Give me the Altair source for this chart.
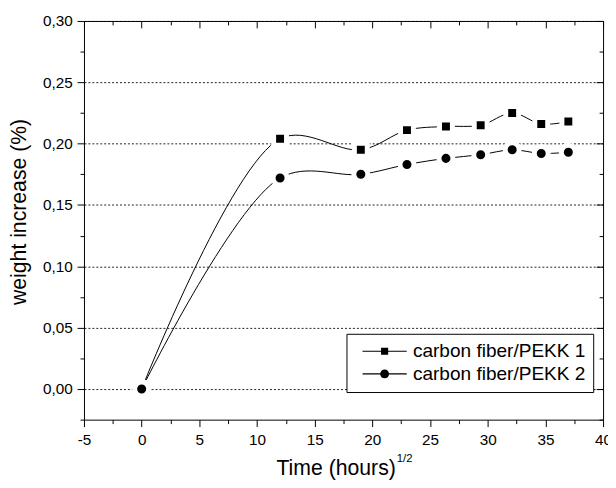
import altair as alt
import pandas as pd

# ---- data ----
time_sqrt = [0, 12, 19, 23, 26.38, 29.39, 32.12, 34.64, 36.99]
pekk1 = [0.000, 0.204, 0.195, 0.211, 0.214, 0.215, 0.225, 0.216, 0.218]
pekk2 = [0.000, 0.172, 0.175, 0.183, 0.188, 0.191, 0.195, 0.192, 0.193]
series_names = ["carbon fiber/PEKK 1", "carbon fiber/PEKK 2"]

x_major = [-5, 0, 5, 10, 15, 20, 25, 30, 35, 40]
x_minor = [-2.5, 2.5, 7.5, 12.5, 17.5, 22.5, 27.5, 32.5, 37.5]
y_major = [0.00, 0.05, 0.10, 0.15, 0.20, 0.25, 0.30]
y_minor = [-0.025, 0.025, 0.075, 0.125, 0.175, 0.225, 0.275]

X_DOMAIN = [-5, 40]
Y_DOMAIN = [-0.025, 0.30]

rows = []
for name, vals in zip(series_names, [pekk1, pekk2]):
    for t, v in zip(time_sqrt, vals):
        rows.append({"t": t, "w": v, "series": name})
df = pd.DataFrame(rows)

W, H = 526, 404
FONT = "Liberation Sans"

xs = alt.Scale(domain=X_DOMAIN, nice=False, zero=False)
ys = alt.Scale(domain=Y_DOMAIN, nice=False, zero=False)

comma_fmt = "replace(format(datum.value, '.2f'), '.', ',')"
plain_fmt = "'' + datum.value"


def ax(**kw):
    base = dict(domainColor="black", tickColor="black", grid=False,
                labelFont=FONT, labelFontSize=15.5, labelColor="black",
                labelFlush=False,
                titleFont=FONT, titleFontSize=21.5, titleFontWeight="normal",
                titleColor="black")
    base.update(kw)
    return alt.Axis(**base)


base = alt.Chart(df)

# curves
lines = base.mark_line(color="black", strokeWidth=1, interpolate="catmull-rom").encode(
    x=alt.X("t:Q", scale=xs, axis=ax(orient="bottom", values=x_major, tickSize=7,
                                     labelPadding=6, labelExpr=plain_fmt,
                                     title="Time (hours)", titleX=255, titleY=50,
                                     titleBaseline="middle", titleAlign="center")),
    y=alt.Y("w:Q", scale=ys, axis=ax(orient="left", values=y_major, tickSize=7,
                                     labelPadding=5, labelExpr=comma_fmt,
                                     grid=True, gridColor="#222", gridDash=[2, 2],
                                     gridWidth=1,
                                     title="weight increase (%)", titleX=-65,
                                     titleY=H / 2 - 9, titleAlign="center",
                                     titleBaseline="middle")),
    detail="series:N",
)

# markers with a white ring to break the curve (Origin style)
markers = base.mark_point(filled=True, fill="black", stroke="white", strokeWidth=5,
                          opacity=1).encode(
    x=alt.X("t:Q", scale=xs, axis=ax(orient="bottom", values=x_minor, tickSize=4,
                                     labels=False, domain=False, title=None)),
    y=alt.Y("w:Q", scale=ys, axis=ax(orient="left", values=y_minor, tickSize=4,
                                     labels=False, domain=False, title=None)),
    shape=alt.Shape("series:N", scale=alt.Scale(domain=series_names,
                                                range=["square", "circle"]),
                    legend=None),
    size=alt.Size("series:N", scale=alt.Scale(domain=series_names, range=[170, 200]),
                  legend=None),
)

# top / right frame (inward ticks)
top_major = base.mark_point(opacity=0).encode(
    x=alt.X("t:Q", scale=xs, axis=ax(orient="bottom", offset=-H, values=x_major,
                                     tickSize=7, labels=False, title=None)),
    y=alt.Y("w:Q", scale=ys, axis=ax(orient="left", offset=-W, values=y_major,
                                     tickSize=7, labels=False, title=None)),
)
top_minor = base.mark_point(opacity=0).encode(
    x=alt.X("t:Q", scale=xs, axis=ax(orient="bottom", offset=-H, values=x_minor,
                                     tickSize=4, labels=False, domain=False, title=None)),
    y=alt.Y("w:Q", scale=ys, axis=ax(orient="left", offset=-W, values=y_minor,
                                     tickSize=4, labels=False, domain=False, title=None)),
)

# legend carrier: custom symbols = thin bar (the line) + the marker, all filled
# symbol size 256 -> 1 unit = 8 px
sq_path = "M-2.8,-0.07H2.8V0.07H-2.8ZM-0.45,-0.45H0.45V0.45H-0.45Z"
ci_path = ("M-2.8,-0.07H2.8V0.07H-2.8ZM0.56,0A0.56,0.56 0 1,1 -0.56,0"
           "A0.56,0.56 0 1,1 0.56,0Z")
legend_layer = base.mark_point(filled=True, color="black", opacity=1, size=256).encode(
    x=alt.X("t:Q", scale=xs, axis=None),
    y=alt.Y("w:Q", scale=ys, axis=None),
    shape=alt.Shape("series:N",
                    scale=alt.Scale(domain=series_names, range=[sq_path, ci_path]),
                    legend=alt.Legend(title=None, orient="none", legendX=266,
                                      legendY=317, strokeColor="black",
                                      fillColor="white", padding=8,
                                      symbolSize=256, symbolOffset=21,
                                      symbolFillColor="black",
                                      symbolStrokeWidth=0,
                                      symbolOpacity=1,
                                      labelFont=FONT, labelFontSize=19.3,
                                      labelColor="black", labelOffset=19,
                                      labelLimit=400,
                                      rowPadding=3,
                                      symbolLimit=0)),
).transform_filter("datum.t > 1000")

sup = alt.Chart(pd.DataFrame({"s": ["1/2"]})).mark_text(
    font=FONT, fontSize=11.5, align="left", baseline="middle", color="black"
).encode(text="s:N", x=alt.value(317), y=alt.value(H + 40))

chart = alt.layer(lines, markers, top_major, top_minor, legend_layer, sup).resolve_scale(
    shape="independent", size="independent"
).resolve_axis(x="independent", y="independent").properties(
    width=W, height=H,
    padding={"left": 77, "top": 10, "right": 5, "bottom": 58},
    autosize=alt.AutoSizeParams(type="none"),
).configure_view(stroke=None)

chart.save("out.html", embed_options={"renderer": "svg", "actions": False})
